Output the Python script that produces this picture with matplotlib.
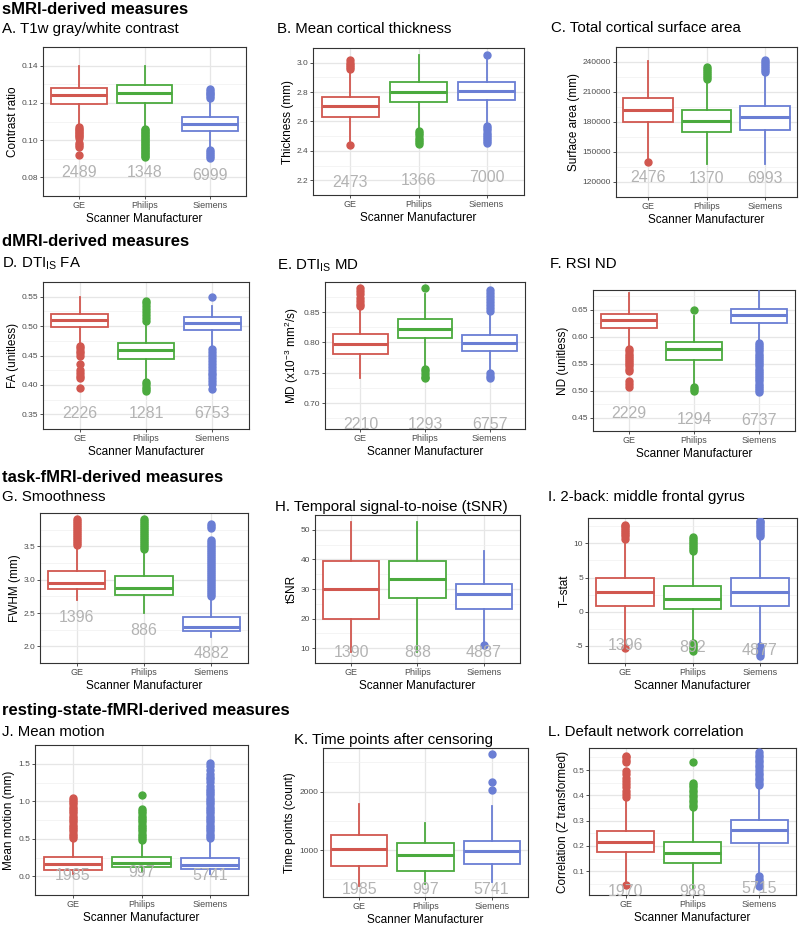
"""
Scanner manufacturer comparison: 12 boxplot panels (ggplot-like look).
"""
import matplotlib
matplotlib.use("Agg")
import matplotlib.pyplot as plt

plt.rcParams.update({
    "font.family": ["Liberation Sans", "DejaVu Sans"],
    "mathtext.fontset": "custom",
    "mathtext.rm": "Liberation Sans",
    "mathtext.it": "Liberation Sans:italic",
    "axes.unicode_minus": True,
})

W, H = 800, 926
MANUFACTURERS = ["GE", "Philips", "Siemens"]
COLORS = ["#D1574F", "#4BAA3E", "#6A7ED4"]

# ---- data: (whisker low, q1, median, q3, whisker high) per manufacturer ----
contrast_stats = [(0.1075, 0.1193, 0.1240, 0.1280, 0.1400),
                  (0.1068, 0.1200, 0.1251, 0.1298, 0.1400),
                  (0.0955, 0.1050, 0.1088, 0.1123, 0.1215)]
contrast_out = [[0.1068, 0.1060, 0.1052, 0.1045, 0.1038, 0.1030, 0.1022, 0.1010,
                 0.0985, 0.0975, 0.0965, 0.0922],
                [0.1060, 0.1052, 0.1044, 0.1036, 0.1028, 0.1020, 0.1012, 0.1004,
                 0.0996, 0.0988, 0.0980, 0.0972, 0.0964, 0.0956, 0.0948, 0.0940,
                 0.0932, 0.0924, 0.0916, 0.0910],
                [0.1275, 0.1265, 0.1255, 0.1245, 0.1235, 0.1225,
                 0.0945, 0.0935, 0.0925, 0.0915, 0.0905]]
contrast_n = [2489, 1348, 6999]

thick_stats = [(2.47, 2.634, 2.703, 2.764, 2.955),
               (2.545, 2.731, 2.800, 2.870, 3.055),
               (2.58, 2.746, 2.810, 2.867, 3.020)]
thick_out = [[3.015, 3.000, 2.985, 2.970, 2.960, 2.440],
             [2.535, 2.520, 2.505, 2.490, 2.475, 2.460, 2.450],
             [3.050, 2.570, 2.555, 2.540, 2.525, 2.510, 2.495, 2.480, 2.465, 2.455]]
thick_n = [2473, 1366, 7000]

area_stats = [(143500, 180000, 192400, 204500, 241400),
              (138500, 169900, 180600, 191800, 221500),
              (138500, 171600, 184600, 195900, 229500)]
area_out = [[140000],
            [235000, 233000, 231000, 229000, 227000, 225000, 223000],
            [242500, 240500, 238500, 236500, 234500, 232500, 230500]]
area_n = [2476, 1370, 6993]

fa_stats = [(0.468, 0.499, 0.5112, 0.5209, 0.550),
            (0.408, 0.4442, 0.4588, 0.4707, 0.506),
            (0.463, 0.4932, 0.5054, 0.515, 0.535)]
fa_out = [[0.466, 0.462, 0.458, 0.454, 0.450, 0.435, 0.425, 0.420, 0.415, 0.411, 0.394],
          [0.543, 0.539, 0.535, 0.529, 0.524, 0.519, 0.514, 0.509,
           0.405, 0.401, 0.397, 0.393, 0.390],
          [0.549, 0.461, 0.456, 0.451, 0.446, 0.441, 0.436, 0.431, 0.426, 0.421,
           0.416, 0.411, 0.406, 0.402, 0.393]]
fa_n = [2226, 1281, 6753]

md_stats = [(0.741, 0.7818, 0.7973, 0.8137, 0.857),
            (0.760, 0.8066, 0.8225, 0.8385, 0.880),
            (0.751, 0.7868, 0.7990, 0.8121, 0.849)]
md_out = [[0.889, 0.884, 0.879, 0.874, 0.869, 0.864, 0.860],
          [0.8895, 0.757, 0.753, 0.748, 0.744, 0.741],
          [0.887, 0.882, 0.877, 0.872, 0.867, 0.862, 0.857, 0.852, 0.749, 0.745, 0.741]]
md_n = [2210, 1293, 6757]

nd_stats = [(0.580, 0.616, 0.6318, 0.6424, 0.682),
            (0.510, 0.5572, 0.5765, 0.5906, 0.638),
            (0.591, 0.626, 0.640, 0.6523, 0.685)]
nd_out = [[0.577, 0.573, 0.569, 0.565, 0.561, 0.557, 0.553, 0.549, 0.545, 0.541,
           0.537, 0.517, 0.513, 0.507],
          [0.650, 0.507, 0.503, 0.499],
          [0.589, 0.585, 0.581, 0.577, 0.573, 0.569, 0.565, 0.561, 0.557, 0.553,
           0.549, 0.545, 0.541, 0.537, 0.533, 0.529, 0.525, 0.521, 0.517, 0.513,
           0.509, 0.505, 0.501, 0.497]]
nd_n = [2229, 1294, 6737]

fwhm_stats = [(2.70, 2.854, 2.951, 3.130, 3.50),
              (2.50, 2.765, 2.877, 3.057, 3.43),
              (2.14, 2.234, 2.290, 2.437, 2.72)]
fwhm_out = [[3.52, 3.55, 3.58, 3.61, 3.64, 3.67, 3.70, 3.73, 3.76, 3.79, 3.82, 3.85,
             3.88, 3.91],
            [3.46, 3.49, 3.52, 3.55, 3.58, 3.61, 3.64, 3.67, 3.70, 3.73, 3.76, 3.79,
             3.82, 3.85, 3.88, 3.91],
            [2.75, 2.78, 2.81, 2.84, 2.87, 2.90, 2.93, 2.96, 2.99, 3.02, 3.05, 3.08,
             3.11, 3.14, 3.17, 3.20, 3.23, 3.26, 3.29, 3.32, 3.35, 3.38, 3.41, 3.44,
             3.47, 3.50, 3.53, 3.56, 3.59, 3.78, 3.81, 3.84]]
fwhm_n = [1396, 886, 4882]

tsnr_stats = [(8.7, 20.0, 30.0, 39.35, 52.7),
              (8.7, 26.96, 33.5, 39.35, 52.7),
              (12.0, 23.37, 28.26, 31.74, 42.9)]
tsnr_out = [[], [], [11.1]]
tsnr_n = [1390, 888, 4887]

tstat_stats = [(-4.8, 0.87, 2.88, 4.90, 10.4),
               (-4.3, 0.34, 1.875, 3.75, 8.7),
               (-4.8, 0.87, 2.88, 4.90, 10.8)]
tstat_out = [[10.7, 11.0, 11.3, 11.6, 11.9, 12.2, 12.5, 12.7, -5.3],
             [8.9, 9.2, 9.5, 9.8, 10.1, 10.4, 10.7, 10.9, -4.6, -4.9, -5.2, -5.5, -5.8],
             [11.0, 11.3, 11.6, 11.9, 12.2, 12.5, 12.8, 13.1, 13.3,
              -5.0, -5.3, -5.6, -5.9, -6.2, -6.5]]
tstat_n = [1396, 892, 4877]

motion_stats = [(0.03, 0.085, 0.159, 0.255, 0.49),
                (0.06, 0.122, 0.181, 0.255, 0.46),
                (0.03, 0.092, 0.144, 0.244, 0.48)]
motion_out = [[0.51, 0.54, 0.57, 0.60, 0.63, 0.66, 0.69, 0.72, 0.75, 0.78, 0.81, 0.84,
               0.87, 0.90, 0.93, 0.96, 0.99, 1.02, 1.05],
              [0.48, 0.51, 0.54, 0.57, 0.60, 0.63, 0.66, 0.69, 0.72, 0.75, 0.78, 0.81,
               0.84, 0.87, 0.90, 1.08],
              [0.51, 0.54, 0.57, 0.60, 0.63, 0.66, 0.69, 0.72, 0.75, 0.78, 0.81, 0.84,
               0.87, 0.90, 0.93, 0.96, 0.99, 1.02, 1.05, 1.08, 1.11, 1.14, 1.17, 1.20,
               1.26, 1.30, 1.33, 1.36, 1.42, 1.47, 1.51]]
motion_n = [1985, 997, 5741]

tpoints_stats = [(383, 731, 1011, 1251, 1789),
                 (417, 640, 914, 1114, 1457),
                 (457, 760, 989, 1160, 1760)]
tpoints_out = [[], [], [2029, 2171, 2640]]
tpoints_n = [1985, 997, 5741]

dmn_stats = [(0.060, 0.175, 0.216, 0.260, 0.385),
             (0.033, 0.132, 0.172, 0.215, 0.345),
             (0.085, 0.213, 0.261, 0.304, 0.435)]
dmn_out = [[0.392, 0.405, 0.418, 0.431, 0.444, 0.457, 0.470, 0.483, 0.496, 0.530,
            0.540, 0.550, 0.557, 0.045],
           [0.352, 0.362, 0.372, 0.382, 0.392, 0.402, 0.412, 0.422, 0.432, 0.442,
            0.449, 0.530],
           [0.440, 0.450, 0.460, 0.470, 0.480, 0.490, 0.500, 0.510, 0.520, 0.530,
            0.540, 0.550, 0.560, 0.570, 0.080, 0.070, 0.060, 0.050, 0.042]]
dmn_n = [1970, 988, 5715]

# ---- panel options (titles, labels, ticks, layout in pixels) ----
panels = [
    dict(stats=contrast_stats, out=contrast_out, n=contrast_n,
         title="A. T1w gray/white contrast", ylabel="Contrast ratio",
         ticks=[0.08, 0.10, 0.12, 0.14], fmt="{:.2f}", ylim=(0.078, 0.143),
         ny=[0.0828, 0.0828, 0.0810], box=(43, 47, 246, 196), tpos=(2, 29)),
    dict(stats=thick_stats, out=thick_out, n=thick_n,
         title="B. Mean cortical thickness", ylabel="Thickness (mm)",
         ticks=[2.2, 2.4, 2.6, 2.8, 3.0], fmt="{:.1f}", ylim=(2.149, 3.094),
         ny=[2.187, 2.20, 2.217], box=(313, 48, 524, 195), tpos=(277, 29)),
    dict(stats=area_stats, out=area_out, n=area_n,
         title="C. Total cortical surface area", ylabel="Surface area (mm)",
         ticks=[120000, 150000, 180000, 210000, 240000], fmt="{:.0f}",
         ylim=(117700, 247200),
         ny=[124900, 123500, 123500], box=(616, 47, 797, 197), tpos=(551, 28)),
    dict(stats=fa_stats, out=fa_out, n=fa_n,
         title="D. DTI$_{\\mathregular{IS}}$ FA", ylabel="FA (unitless)",
         ticks=[0.35, 0.40, 0.45, 0.50, 0.55], fmt="{:.2f}", ylim=(0.3446, 0.5597),
         ny=[0.3515] * 3, box=(43, 282, 249, 429), tpos=(2, 264)),
    dict(stats=md_stats, out=md_out, n=md_n,
         title="E. DTI$_{\\mathregular{IS}}$ MD",
         ylabel="MD (x10$^{\\mathregular{-3}}$ mm$^{\\mathregular{2}}$/s)",
         ticks=[0.70, 0.75, 0.80, 0.85], fmt="{:.2f}", ylim=(0.6577, 0.8995),
         ny=[0.6654] * 3, box=(325, 282, 525, 429), tpos=(277, 266)),
    dict(stats=nd_stats, out=nd_out, n=nd_n,
         title="F. RSI ND", ylabel="ND (unitless)",
         ticks=[0.45, 0.50, 0.55, 0.60, 0.65], fmt="{:.2f}", ylim=(0.434, 0.687),
         ny=[0.457, 0.447, 0.444], box=(593, 290, 795, 431), tpos=(550, 264)),
    dict(stats=fwhm_stats, out=fwhm_out, n=fwhm_n,
         title="G. Smoothness", ylabel="FWHM (mm)",
         ticks=[2.0, 2.5, 3.0, 3.5], fmt="{:.1f}", ylim=(1.83, 4.0),
         ny=[2.43, 2.234, 1.90], box=(40, 513, 248, 663), tpos=(2, 497)),
    dict(stats=tsnr_stats, out=tsnr_out, n=tsnr_n,
         title="H. Temporal signal-to-noise (tSNR)", ylabel="tSNR",
         ticks=[10, 20, 30, 40, 50], fmt="{:.0f}", ylim=(6.5, 54.9),
         ny=[8.5] * 3, box=(315, 515, 520, 663), tpos=(275, 507)),
    dict(stats=tstat_stats, out=tstat_out, n=tstat_n,
         title="I. 2-back: middle frontal gyrus", ylabel="T\u2013stat",
         ticks=[-5, 0, 5, 10], fmt="{:.0f}", ylim=(-7.2, 13.7),
         ny=[-4.9, -5.2, -5.67], box=(588, 518, 797, 663), tpos=(548, 497)),
    dict(stats=motion_stats, out=motion_out, n=motion_n,
         title="J. Mean motion", ylabel="Mean motion (mm)",
         ticks=[0.0, 0.5, 1.0, 1.5], fmt="{:.1f}", ylim=(-0.052, 1.611),
         ny=[0.01, 0.05, 0.01], box=(35, 745, 248, 895), tpos=(2, 732)),
    dict(stats=tpoints_stats, out=tpoints_out, n=tpoints_n,
         title="K. Time points after censoring", ylabel="Time points (count)",
         ticks=[1000, 2000], fmt="{:.0f}", ylim=(200, 2743),
         ny=[326] * 3, box=(323, 748, 528, 897), tpos=(294, 740)),
    dict(stats=dmn_stats, out=dmn_out, n=dmn_n,
         title="L. Default network correlation", ylabel="Correlation (Z transformed)",
         ticks=[0.1, 0.2, 0.3, 0.4, 0.5], fmt="{:.1f}", ylim=(0.006, 0.587),
         ny=[0.02, 0.02, 0.03], box=(589, 748, 796, 895), tpos=(548, 732)),
]

sections = [("sMRI-derived measures", 9), ("dMRI-derived measures", 242),
            ("task-fMRI-derived measures", 477),
            ("resting-state-fMRI-derived measures", 711)]

fig = plt.figure(figsize=(W / 100, H / 100), dpi=100)

for text, y in sections:
    fig.text(2 / W, 1 - y / H, text, fontsize=12, fontweight="bold",
             ha="left", va="center")

for p in panels:
    l, t, r, b = p["box"]
    ax = fig.add_axes([l / W, 1 - b / H, (r - l) / W, (b - t) / H])
    for i, (st, out, c) in enumerate(zip(p["stats"], p["out"], COLORS)):
        lo, q1, med, q3, hi = st
        ax.bxp([dict(whislo=lo, q1=q1, med=med, q3=q3, whishi=hi, fliers=out)],
               positions=[i + 1], widths=0.85, patch_artist=True,
               showcaps=False, manage_ticks=False, zorder=3,
               boxprops=dict(facecolor="white", edgecolor=c, linewidth=1.3),
               medianprops=dict(color=c, linewidth=2.2, solid_capstyle="butt"),
               whiskerprops=dict(color=c, linewidth=1.3),
               flierprops=dict(marker="o", markerfacecolor=c, markeredgecolor=c,
                               markersize=5, linestyle="none"))
    for i, (n, y) in enumerate(zip(p["n"], p["ny"])):
        ax.text(i + 1, y, str(n), ha="center", va="center", fontsize=11.5,
                color="#B3B3B3", zorder=5)

    ticks = p["ticks"]
    step = ticks[1] - ticks[0]
    minor = [ticks[0] - step / 2] + [v + step / 2 for v in ticks]
    ax.set_ylim(*p["ylim"])
    ax.set_yticks(ticks)
    ax.set_yticklabels([p["fmt"].format(v) for v in ticks])
    ax.set_yticks(minor, minor=True)
    ax.set_xlim(0.45, 3.55)
    ax.set_xticks([1, 2, 3])
    ax.set_xticklabels(MANUFACTURERS)
    ax.set_axisbelow(True)
    ax.grid(axis="y", which="major", color="#E6E6E6", linewidth=0.9)
    ax.grid(axis="y", which="minor", color="#F0F0F0", linewidth=0.5)
    ax.grid(axis="x", which="major", color="#E6E6E6", linewidth=0.9)
    ax.tick_params(axis="both", which="major", length=2, width=0.6,
                   color="#333333", pad=1.5, labelcolor="#4D4D4D")
    ax.tick_params(axis="y", labelsize=6)
    ax.tick_params(axis="x", labelsize=6.5)
    ax.tick_params(which="minor", length=0)
    for s in ax.spines.values():
        s.set_color("#333333")
        s.set_linewidth(0.8)
    ax.set_xlabel("Scanner Manufacturer", fontsize=8.5, labelpad=2)
    ax.set_ylabel(p["ylabel"], fontsize=8.5, labelpad=2)

    tx, ty = p["tpos"]
    fig.text(tx / W, 1 - ty / H, p["title"], fontsize=10.8, ha="left", va="center")

fig.savefig("out.png", dpi=100)
